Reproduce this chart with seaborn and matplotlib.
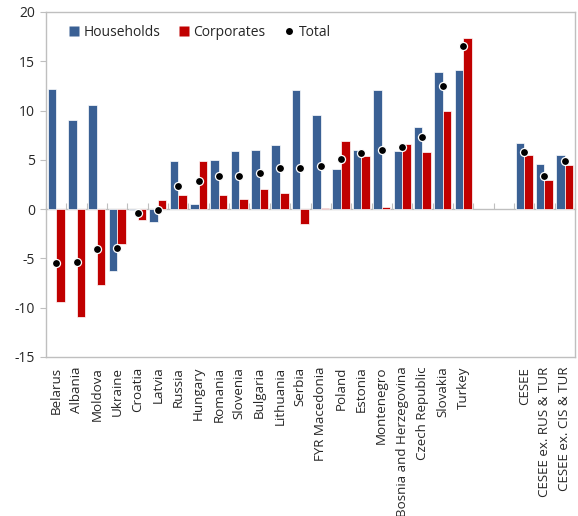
import numpy as np
import pandas as pd
import matplotlib
matplotlib.use("Agg")
import matplotlib.pyplot as plt
from matplotlib.lines import Line2D
import seaborn as sns

# Credit growth by borrower sector, % year on year
countries = [
    "Belarus", "Albania", "Moldova", "Ukraine", "Croatia", "Latvia", "Russia",
    "Hungary", "Romania", "Slovenia", "Bulgaria", "Lithuania", "Serbia",
    "FYR Macedonia", "Poland", "Estonia", "Montenegro",
    "Bosnia and Herzegovina", "Czech Republic", "Slovakia", "Turkey",
    " ", "  ",
    "CESEE", "CESEE ex. RUS & TUR", "CESEE ex. CIS & TUR",
]
households = [12.15, 9.0, 10.6, -6.25, -0.05, -1.3, 4.9, 0.57, 5.0, 5.9, 6.0,
              6.5, 12.05, 9.55, 4.1, 6.0, 12.05, 5.9, 8.3, 13.9, 14.1,
              np.nan, np.nan, 6.7, 4.6, 5.45]
corporates = [-9.4, -10.9, -7.7, -3.55, -1.15, 0.9, 1.4, 4.9, 1.4, 1.0, 2.05,
              1.65, -1.5, 0.15, 6.95, 5.35, 0.25, 6.6, 5.8, 10.0, 17.4,
              np.nan, np.nan, 5.45, 2.95, 4.5]
total = [-5.45, -5.35, -4.05, -3.95, -0.35, -0.05, 2.35, 2.9, 3.4, 3.4, 3.65,
         4.2, 4.2, 4.4, 5.05, 5.7, 6.05, 6.35, 7.35, 12.5, 16.6,
         np.nan, np.nan, 5.8, 3.4, 4.85]

series_names = ["Households", "Corporates"]
palette = {"Households": "#3A6094", "Corporates": "#C00000"}

bars = pd.DataFrame({
    "country": countries * 2,
    "sector": ["Households"] * len(countries) + ["Corporates"] * len(countries),
    "growth": households + corporates,
}).dropna()
dots = pd.DataFrame({"country": countries, "growth": total}).dropna()

sns.set_theme(style="white")
plt.rcParams["font.family"] = ["Open Sans", "DejaVu Sans"]
plt.rcParams["axes.unicode_minus"] = False
text_color = "#262626"

fig = plt.figure(figsize=(5.78, 5.16), dpi=100)
ax = fig.add_axes([46 / 578, 1 - 357 / 516, (575 - 46) / 578, (357 - 12) / 516])

sns.barplot(data=bars, x="country", y="growth", hue="sector", order=countries,
            hue_order=series_names, palette=palette, width=0.84,
            edgecolor="white", linewidth=0.5, saturation=1, errorbar=None,
            legend=False, ax=ax)
sns.stripplot(data=dots, x="country", y="growth", order=countries,
              jitter=False, color="black", size=5.8, edgecolor="white",
              linewidth=0.9, zorder=5, ax=ax)

ax.set_xlim(-0.5, len(countries) - 0.5)
ax.set_ylim(-15, 20)
ax.set_yticks(np.arange(-15, 21, 5))
ax.set_xlabel("")
ax.set_ylabel("")

frame = "#BFBFBF"
for side in ax.spines.values():
    side.set_color(frame)
    side.set_linewidth(1.0)

ax.tick_params(axis="y", direction="out", length=4, width=0.8, color=frame,
               labelsize=10, labelcolor=text_color, pad=4, left=True)
ax.tick_params(axis="x", length=0, labelsize=9.6, labelcolor=text_color,
               pad=7, rotation=90)
for lab in ax.get_xticklabels():
    lab.set_ha("center")
    lab.set_va("top")

# Zero axis with category divider ticks
zero_axis = ax.secondary_xaxis(15 / 35)
zero_axis.set_xticks(np.arange(-0.5, len(countries), 1.0))
zero_axis.set_xticklabels([])
zero_axis.tick_params(direction="in", length=4, width=0.8, color=frame)
zero_axis.spines["bottom"].set_color(frame)
zero_axis.spines["bottom"].set_linewidth(1.0)

handles = [
    Line2D([], [], marker="s", linestyle="none", markersize=7,
           markerfacecolor=palette["Households"], markeredgecolor="none"),
    Line2D([], [], marker="s", linestyle="none", markersize=7,
           markerfacecolor=palette["Corporates"], markeredgecolor="none"),
    Line2D([], [], marker="o", linestyle="none", markersize=5,
           markerfacecolor="black", markeredgecolor="none"),
]
ax.legend(handles, ["Households", "Corporates", "Total"], loc="upper left",
          bbox_to_anchor=(0.018, 1.0), ncol=3, frameon=False, fontsize=10,
          handlelength=0.8, handletextpad=0.3, columnspacing=1.3,
          labelcolor=text_color)

fig.savefig("out.png", dpi=100)
